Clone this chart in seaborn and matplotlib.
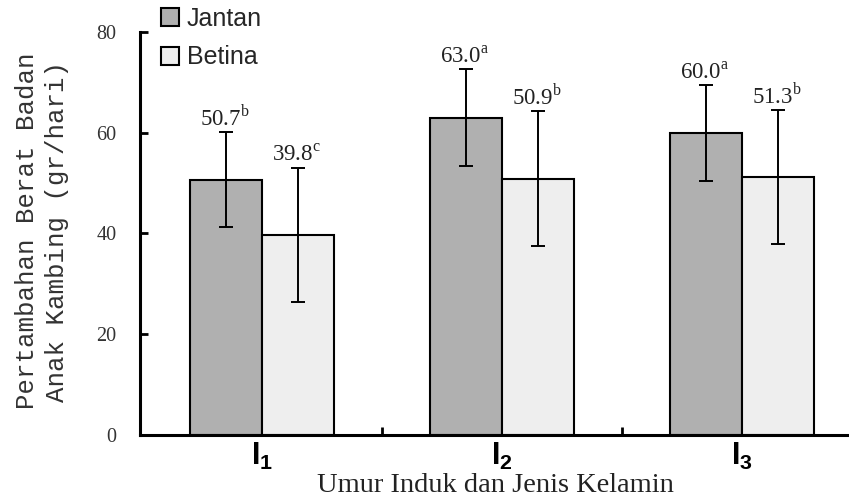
"""
Rebuild of the goat weight-gain bar chart (Jantan vs Betina per Umur Induk).
Run: python plot.py
"""
import matplotlib
matplotlib.use('Agg')
import numpy as np
import pandas as pd
import matplotlib.pyplot as plt
import seaborn as sns

# values
categories = ['I1', 'I2', 'I3']
tick_labels = [r'$\mathbf{I}_{\mathbf{1}}$', r'$\mathbf{I}_{\mathbf{2}}$', r'$\mathbf{I}_{\mathbf{3}}$']
sexes = ['Jantan', 'Betina']
jantan_mean = [50.7, 63.0, 60.0]
betina_mean = [39.8, 50.9, 51.3]
jantan_sd = [9.5, 9.6, 9.5]
betina_sd = [13.3, 13.4, 13.3]
jantan_sup = ['b', 'a', 'a']
betina_sup = ['c', 'b', 'b']

SERIF = 'Liberation Serif'
SANS = 'Liberation Sans'

sns.set_theme(style='white')
plt.rcParams['font.family'] = [SERIF, 'DejaVu Serif']
plt.rcParams['mathtext.fontset'] = 'custom'
plt.rcParams['mathtext.rm'] = SERIF
plt.rcParams['mathtext.bf'] = f'{SANS}:bold'

df = pd.DataFrame({
    'umur': categories * 2,
    'sex': [sexes[0]] * 3 + [sexes[1]] * 3,
    'mean': jantan_mean + betina_mean,
})
sd = {sexes[0]: jantan_sd, sexes[1]: betina_sd}
sup = {sexes[0]: jantan_sup, sexes[1]: betina_sup}

fig = plt.figure(figsize=(8.49, 5.0), dpi=100)
ax = fig.add_axes([140 / 849, 0.13, 1 - 140 / 849, 0.806])

sns.barplot(data=df, x='umur', y='mean', hue='sex', hue_order=sexes,
            order=categories, palette=['#b0b0b0', '#eeeeee'],
            width=0.6, errorbar=None, edgecolor='black', linewidth=1.5,
            ax=ax)

# custom SD whiskers + significance labels on each bar
for container, name in zip(ax.containers, sexes):
    for i, bar in enumerate(container):
        xc = bar.get_x() + bar.get_width() / 2
        h = bar.get_height()
        ax.errorbar(xc, h, yerr=sd[name][i], color='black', elinewidth=1.4,
                    capsize=4.8, capthick=1.4, zorder=5)
        ax.annotate(f'{h:.1f}' + r'$^{\mathrm{' + sup[name][i] + '}}$',
                    (xc, h + sd[name][i]), xytext=(-1, 1),
                    textcoords='offset points', ha='center', va='bottom',
                    fontsize=16.5, color='#222222', family=[SERIF, 'DejaVu Serif'])

ax.set_xlim(-0.508, 2.446)
ax.set_ylim(0, 80)
ax.set_yticks([0, 20, 40, 60, 80])
ax.set_xticks(range(3))
ax.set_xticklabels(tick_labels, fontsize=22)
ax.set_xticks([0.5, 1.5], minor=True)
ax.tick_params(axis='x', which='major', length=0, pad=4, colors='black')
ax.tick_params(axis='x', which='minor', direction='in', length=6, width=2,
               bottom=True, color='black')
ax.tick_params(axis='y', direction='in', length=6, width=2, pad=17,
               left=True, labelsize=14.5, labelcolor='#333333', color='black')

for side in ['top', 'right']:
    ax.spines[side].set_visible(False)
for side in ['left', 'bottom']:
    ax.spines[side].set_linewidth(2.2)
    ax.spines[side].set_color('black')

ax.set_xlabel('')
ax.set_ylabel('')
fig.text(495 / 849, 1 - 485 / 500, 'Umur Induk dan Jenis Kelamin',
         ha='center', va='center', fontsize=20.5, color='#222222')
fig.text(42 / 849, 1 - 231 / 500,
         'Pertambahan Berat Badan\nAnak Kambing (gr/hari)',
         rotation=90, ha='center', va='center', multialignment='center',
         fontsize=18.5, linespacing=1.35, color='#333333',
         family=['Liberation Mono', 'DejaVu Sans Mono'])

handles, labels = ax.get_legend_handles_labels()
ax.legend(handles, labels, loc='upper left', frameon=False,
          bbox_to_anchor=(158 / 849, 1 - 4 / 500), bbox_transform=fig.transFigure,
          prop={'family': SANS, 'size': 18}, handlelength=0.75, handleheight=0.75,
          handletextpad=0.3, labelspacing=0.6, borderaxespad=0, borderpad=0.1)

fig.savefig('out.png', dpi=100)
